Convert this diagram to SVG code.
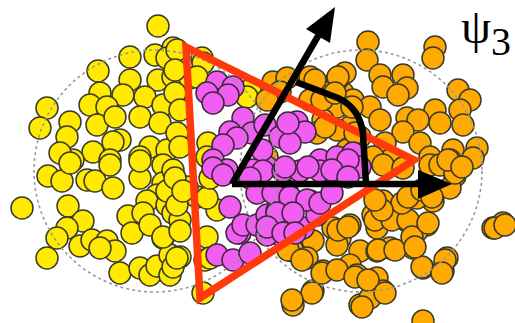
<svg xmlns="http://www.w3.org/2000/svg" width="515" height="323" viewBox="0 0 515 323">
<style>
.y circle{fill:#FFEA00;stroke:#3a3a2a;stroke-width:1.5}
.o circle{fill:#FFAA00;stroke:#3a3a2a;stroke-width:1.5}
.m circle{fill:#F25EF2;stroke:#3a2a3a;stroke-width:1.5}
.nuc{fill:none;stroke:#999;stroke-width:1.6;stroke-dasharray:3 3}
.ax{fill:none;stroke:#000;stroke-width:6.5}
</style>
<rect width="515" height="323" fill="#fff"/>
<g id="yellow" class="y">
<circle cx="158" cy="26" r="11"/><circle cx="130" cy="57" r="11"/><circle cx="155" cy="55" r="11"/><circle cx="173" cy="48" r="11"/><circle cx="167" cy="58" r="11"/><circle cx="98" cy="71" r="11"/><circle cx="130" cy="80" r="11"/><circle cx="158" cy="80" r="11"/><circle cx="173" cy="77" r="11"/><circle cx="190" cy="78" r="11"/><circle cx="202" cy="58" r="11"/><circle cx="177" cy="50" r="11"/><circle cx="203" cy="63" r="11"/><circle cx="197" cy="77" r="11"/>
<circle cx="100" cy="93" r="11"/><circle cx="123" cy="95" r="11"/><circle cx="145" cy="97" r="11"/><circle cx="163" cy="105" r="11"/><circle cx="47" cy="108" r="11"/><circle cx="90" cy="105" r="11"/><circle cx="107" cy="107" r="11"/><circle cx="70" cy="122" r="11"/><circle cx="97" cy="125" r="11"/><circle cx="115" cy="117" r="11"/><circle cx="140" cy="117" r="11"/><circle cx="160" cy="123" r="11"/><circle cx="40" cy="128" r="11"/><circle cx="67" cy="137" r="11"/><circle cx="120" cy="140" r="11"/><circle cx="113" cy="142" r="11"/><circle cx="150" cy="147" r="11"/><circle cx="167" cy="150" r="11"/><circle cx="93" cy="152" r="11"/><circle cx="73" cy="160" r="11"/><circle cx="60" cy="153" r="11"/><circle cx="110" cy="160" r="11"/><circle cx="140" cy="157" r="11"/><circle cx="175" cy="93" r="11"/><circle cx="180" cy="110" r="11"/><circle cx="177" cy="133" r="11"/><circle cx="208" cy="143" r="11"/><circle cx="180" cy="147" r="11"/><circle cx="207" cy="157" r="11"/><circle cx="250" cy="90" r="11"/><circle cx="247" cy="97" r="11"/><circle cx="175" cy="70" r="11"/>
<circle cx="22" cy="208" r="11"/><circle cx="48" cy="176" r="11"/><circle cx="62" cy="181" r="11"/><circle cx="70" cy="163" r="11"/><circle cx="87" cy="180" r="11"/><circle cx="95" cy="181" r="11"/><circle cx="113" cy="188" r="11"/><circle cx="110" cy="165" r="11"/><circle cx="140" cy="178" r="11"/><circle cx="140" cy="161" r="11"/><circle cx="163" cy="165" r="11"/><circle cx="163" cy="183" r="11"/><circle cx="157" cy="195" r="11"/><circle cx="147" cy="201" r="11"/><circle cx="167" cy="205" r="11"/><circle cx="173" cy="213" r="11"/><circle cx="68" cy="206" r="11"/><circle cx="83" cy="221" r="11"/><circle cx="67" cy="228" r="11"/><circle cx="57" cy="238" r="11"/><circle cx="47" cy="258" r="11"/><circle cx="80" cy="246" r="11"/><circle cx="92" cy="240" r="11"/><circle cx="107" cy="241" r="11"/><circle cx="115" cy="251" r="11"/><circle cx="100" cy="248" r="11"/><circle cx="128" cy="216" r="11"/><circle cx="132" cy="233" r="11"/><circle cx="143" cy="213" r="11"/><circle cx="150" cy="225" r="11"/><circle cx="163" cy="238" r="11"/><circle cx="120" cy="273" r="11"/><circle cx="140" cy="268" r="11"/><circle cx="150" cy="275" r="11"/><circle cx="157" cy="266" r="11"/><circle cx="170" cy="275" r="11"/><circle cx="170" cy="255" r="11"/><circle cx="167" cy="191" r="11"/><circle cx="197" cy="197" r="11"/><circle cx="217" cy="210" r="11"/><circle cx="207" cy="237" r="11"/><circle cx="205" cy="260" r="11"/><circle cx="203" cy="293" r="11"/><circle cx="180" cy="257" r="11"/><circle cx="173" cy="267" r="11"/><circle cx="163" cy="237" r="11"/><circle cx="187" cy="187" r="11"/><circle cx="173" cy="170" r="11"/><circle cx="180" cy="220" r="11"/><circle cx="175" cy="178" r="11"/><circle cx="177" cy="205" r="11"/><circle cx="180" cy="231" r="11"/><circle cx="177" cy="258" r="11"/><circle cx="207" cy="198" r="11"/><circle cx="210" cy="178" r="11"/><circle cx="183" cy="191" r="11"/><circle cx="210" cy="258" r="11"/>
</g>
<g id="orange" class="o">
<circle cx="368" cy="42" r="11"/><circle cx="435" cy="47" r="11"/><circle cx="433" cy="58" r="11"/><circle cx="367" cy="60" r="11"/><circle cx="345" cy="73" r="11"/><circle cx="380" cy="75" r="11"/><circle cx="403" cy="75" r="11"/><circle cx="383" cy="87" r="11"/><circle cx="407" cy="88" r="11"/><circle cx="398" cy="95" r="11"/><circle cx="343" cy="93" r="11"/><circle cx="353" cy="100" r="11"/><circle cx="370" cy="107" r="11"/><circle cx="458" cy="90" r="11"/><circle cx="470" cy="100" r="11"/><circle cx="460" cy="110" r="11"/><circle cx="435" cy="110" r="11"/><circle cx="440" cy="123" r="11"/><circle cx="463" cy="125" r="11"/><circle cx="407" cy="118" r="11"/><circle cx="418" cy="120" r="11"/><circle cx="380" cy="120" r="11"/><circle cx="403" cy="132" r="11"/><circle cx="350" cy="127" r="11"/><circle cx="360" cy="137" r="11"/><circle cx="385" cy="143" r="11"/><circle cx="420" cy="143" r="11"/><circle cx="453" cy="150" r="11"/><circle cx="477" cy="148" r="11"/><circle cx="430" cy="157" r="11"/><circle cx="390" cy="160" r="11"/><circle cx="373" cy="157" r="11"/><circle cx="450" cy="160" r="11"/><circle cx="347" cy="150" r="11"/>
<circle cx="273" cy="82" r="11"/><circle cx="287" cy="78" r="11"/><circle cx="280" cy="92" r="11"/><circle cx="310" cy="77" r="11"/><circle cx="337" cy="80" r="11"/><circle cx="327" cy="93" r="11"/><circle cx="310" cy="100" r="11"/><circle cx="267" cy="100" r="11"/><circle cx="337" cy="107" r="11"/><circle cx="323" cy="120" r="11"/><circle cx="317" cy="133" r="11"/><circle cx="337" cy="130" r="11"/><circle cx="267" cy="157" r="11"/><circle cx="315" cy="80" r="11"/><circle cx="338" cy="77" r="11"/><circle cx="322" cy="100" r="11"/><circle cx="335" cy="93" r="11"/><circle cx="352" cy="107" r="11"/><circle cx="325" cy="127" r="11"/><circle cx="355" cy="133" r="11"/>
<circle cx="383" cy="165" r="11"/><circle cx="403" cy="168" r="11"/><circle cx="430" cy="165" r="11"/><circle cx="440" cy="165" r="11"/><circle cx="455" cy="176" r="11"/><circle cx="450" cy="188" r="11"/><circle cx="433" cy="201" r="11"/><circle cx="417" cy="198" r="11"/><circle cx="383" cy="201" r="11"/><circle cx="373" cy="215" r="11"/><circle cx="387" cy="215" r="11"/><circle cx="407" cy="221" r="11"/><circle cx="427" cy="225" r="11"/><circle cx="417" cy="231" r="11"/><circle cx="413" cy="248" r="11"/><circle cx="377" cy="228" r="11"/><circle cx="350" cy="225" r="11"/><circle cx="340" cy="238" r="11"/><circle cx="360" cy="251" r="11"/><circle cx="377" cy="251" r="11"/><circle cx="390" cy="248" r="11"/><circle cx="350" cy="265" r="11"/><circle cx="357" cy="275" r="11"/><circle cx="377" cy="278" r="11"/><circle cx="383" cy="291" r="11"/><circle cx="360" cy="305" r="11"/><circle cx="370" cy="298" r="11"/><circle cx="423" cy="268" r="11"/><circle cx="443" cy="271" r="11"/><circle cx="447" cy="258" r="11"/><circle cx="493" cy="228" r="11"/><circle cx="503" cy="223" r="11"/><circle cx="423" cy="321" r="11"/><circle cx="473" cy="158" r="11"/>
<circle cx="333" cy="228" r="11"/><circle cx="313" cy="241" r="11"/><circle cx="293" cy="251" r="11"/><circle cx="307" cy="258" r="11"/><circle cx="323" cy="271" r="11"/><circle cx="313" cy="291" r="11"/><circle cx="293" cy="305" r="11"/><circle cx="337" cy="245" r="11"/><circle cx="288" cy="250" r="11"/><circle cx="302" cy="260" r="11"/><circle cx="322" cy="273" r="11"/><circle cx="312" cy="293" r="11"/><circle cx="292" cy="300" r="11"/><circle cx="337" cy="270" r="11"/><circle cx="355" cy="277" r="11"/><circle cx="368" cy="280" r="11"/><circle cx="385" cy="293" r="11"/><circle cx="362" cy="307" r="11"/><circle cx="422" cy="267" r="11"/><circle cx="445" cy="260" r="11"/><circle cx="442" cy="273" r="11"/><circle cx="338" cy="230" r="11"/><circle cx="348" cy="227" r="11"/><circle cx="375" cy="220" r="11"/><circle cx="392" cy="220" r="11"/><circle cx="378" cy="250" r="11"/><circle cx="395" cy="250" r="11"/><circle cx="408" cy="220" r="11"/><circle cx="412" cy="237" r="11"/><circle cx="415" cy="247" r="11"/><circle cx="428" cy="223" r="11"/><circle cx="402" cy="203" r="11"/><circle cx="382" cy="210" r="11"/><circle cx="408" cy="197" r="11"/><circle cx="375" cy="200" r="11"/><circle cx="422" cy="190" r="11"/><circle cx="432" cy="197" r="11"/><circle cx="455" cy="173" r="11"/><circle cx="448" cy="160" r="11"/><circle cx="462" cy="167" r="11"/><circle cx="495" cy="228" r="11"/><circle cx="505" cy="225" r="11"/>
</g>
<g id="magenta" class="m">
<circle cx="217" cy="82" r="11"/><circle cx="233" cy="87" r="11"/><circle cx="228" cy="95" r="11"/><circle cx="207" cy="93" r="11"/><circle cx="213" cy="103" r="11"/><circle cx="243" cy="118" r="11"/><circle cx="230" cy="132" r="11"/><circle cx="252" cy="133" r="11"/><circle cx="237" cy="138" r="11"/><circle cx="223" cy="145" r="11"/><circle cx="213" cy="160" r="11"/><circle cx="265" cy="125" r="11"/><circle cx="280" cy="137" r="11"/><circle cx="297" cy="122" r="11"/><circle cx="305" cy="132" r="11"/><circle cx="290" cy="143" r="11"/><circle cx="288" cy="123" r="11"/><circle cx="320" cy="160" r="11"/><circle cx="337" cy="157" r="11"/><circle cx="353" cy="153" r="11"/><circle cx="360" cy="167" r="11"/><circle cx="348" cy="160" r="11"/><circle cx="267" cy="167" r="11"/><circle cx="253" cy="170" r="11"/><circle cx="227" cy="170" r="11"/><circle cx="262" cy="150" r="11"/>
<circle cx="230" cy="207" r="11"/><circle cx="240" cy="233" r="11"/><circle cx="217" cy="255" r="11"/><circle cx="233" cy="260" r="11"/><circle cx="250" cy="253" r="11"/><circle cx="237" cy="233" r="11"/>
<circle cx="213" cy="168" r="11"/><circle cx="223" cy="175" r="11"/><circle cx="243" cy="225" r="11"/><circle cx="257" cy="225" r="11"/><circle cx="267" cy="215" r="11"/><circle cx="277" cy="211" r="11"/><circle cx="293" cy="208" r="11"/><circle cx="280" cy="235" r="11"/><circle cx="267" cy="235" r="11"/><circle cx="303" cy="228" r="11"/><circle cx="287" cy="191" r="11"/><circle cx="310" cy="201" r="11"/><circle cx="317" cy="215" r="11"/><circle cx="263" cy="171" r="11"/><circle cx="283" cy="171" r="11"/><circle cx="300" cy="171" r="11"/><circle cx="320" cy="171" r="11"/><circle cx="337" cy="177" r="11"/><circle cx="250" cy="178" r="11"/>
<circle cx="285" cy="167" r="11"/><circle cx="308" cy="167" r="11"/><circle cx="332" cy="170" r="11"/><circle cx="348" cy="177" r="11"/><circle cx="257" cy="193" r="11"/><circle cx="273" cy="193" r="11"/><circle cx="290" cy="197" r="11"/><circle cx="307" cy="200" r="11"/><circle cx="320" cy="203" r="11"/><circle cx="332" cy="193" r="11"/><circle cx="277" cy="213" r="11"/><circle cx="293" cy="213" r="11"/><circle cx="267" cy="227" r="11"/><circle cx="283" cy="233" r="11"/><circle cx="295" cy="233" r="11"/>
</g>
<g id="nuclei">
<circle class="nuc" cx="155" cy="171" r="121"/>
<circle class="nuc" cx="361" cy="171" r="121"/>
</g>
<g id="participant-plane">
<polygon points="186,47 414,160 200,298" fill="none" stroke="#FF3A0A" stroke-width="7.5" stroke-linejoin="miter"/>
</g>
<g id="axes">
<path class="ax" d="M296 82 L338 98 Q360 108 363 134 L366 184"/>
<line class="ax" x1="232" y1="184" x2="422" y2="184"/>
<polygon points="452,184 418,170 418,199" fill="#000"/>
<line class="ax" x1="232" y1="184" x2="321" y2="31"/>
<polygon points="335,7 306,29 330,43" fill="#000"/>
</g>
<text id="psi3" x="461" y="43" font-family="Liberation Serif, serif" font-size="48" fill="#000">ψ<tspan font-size="40" dy="12">3</tspan></text>
</svg>
